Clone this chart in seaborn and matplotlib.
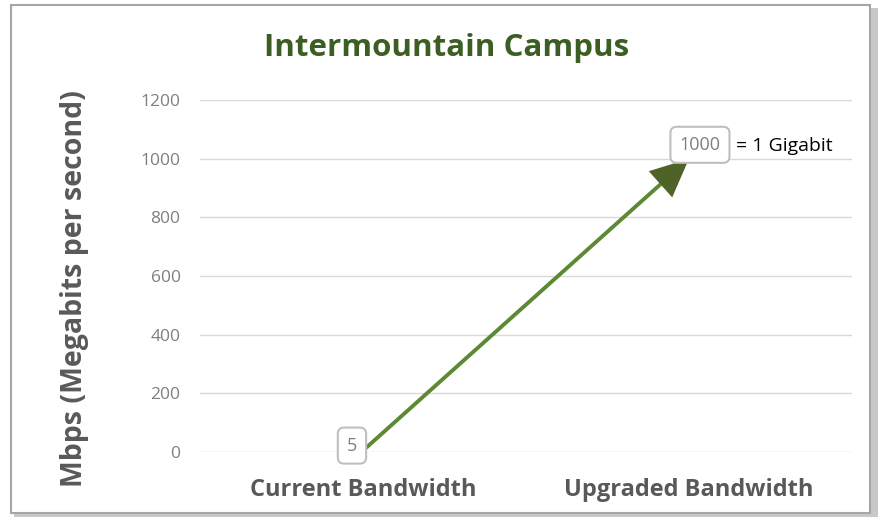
import matplotlib
matplotlib.use("Agg")
import matplotlib.pyplot as plt
import seaborn as sns
from matplotlib.patches import Rectangle

# Données du graphique
categories = ["Current Bandwidth", "Upgraded Bandwidth"]
valeurs = [5, 1000]
etiquettes = ["5", "1000"]
yticks = [0, 200, 400, 600, 800, 1000, 1200]

sns.set_theme(style="white")
plt.rcParams['font.family'] = ['Open Sans', 'DejaVu Sans']

fig = plt.figure(figsize=(8.81, 5.19), dpi=100)
ax = fig.add_axes([0.227, 0.129, 0.74, 0.678])

# Cadre avec ombre
fig.patches.append(Rectangle((0.016, 0.004), 0.981, 0.98, transform=fig.transFigure,
                             facecolor="#c8c8c8", edgecolor="none", zorder=-3))
fig.patches.append(Rectangle((0.012, 0.012), 0.976, 0.978, transform=fig.transFigure,
                             facecolor="white", edgecolor="#a6a6a6", lw=1.5, zorder=-2))

x = list(range(len(categories)))
sns.lineplot(x=x, y=valeurs, color="#5b8a32", lw=2.8, ax=ax)

# Tête de flèche
ax.annotate("", xy=(x[1], valeurs[1]), xytext=(x[0], valeurs[0]),
            arrowprops=dict(arrowstyle="-|>,head_length=0.5,head_width=0.23", mutation_scale=55, lw=0,
                            color="#4f6228", shrinkA=0, shrinkB=0))

# Étiquettes de données
boite = dict(boxstyle="round,pad=0.5,rounding_size=0.35", fc="white", ec="#bfbfbf", lw=1.5)
ax.annotate(etiquettes[0], xy=(x[0], valeurs[0]), xytext=(-11, 5), textcoords="offset pixels",
            ha="center", va="center", fontsize=13, color="#7f7f7f", bbox=boite)
ax.annotate(etiquettes[1], xy=(x[1], valeurs[1]), xytext=(11, 14), textcoords="offset pixels",
            ha="center", va="center", fontsize=13, color="#7f7f7f", bbox=boite)
ax.annotate("= 1 Gigabit", xy=(x[1], valeurs[1]), xytext=(47, 13), textcoords="offset pixels",
            ha="left", va="center", fontsize=14, color="black")

ax.set_xlim(-0.5, 1.5)
ax.set_ylim(0, 1200)
ax.set_yticks(yticks)
ax.set_xticks(x)
ax.set_xticklabels(categories, fontsize=17, fontweight="bold", color="#595959")
ax.tick_params(axis="y", labelsize=12.5, labelcolor="#7f7f7f", pad=14, length=0)
ax.tick_params(axis="x", pad=19, length=0)
ax.grid(axis="y", color="#d9d9d9", lw=1)
for s in ax.spines.values():
    s.set_visible(False)

ax.set_ylabel("Mbps (Megabits per second)", fontsize=20.5, fontweight="bold", color="#595959")
ax.yaxis.set_label_coords(-0.17, 0.466)
fig.text(0.507, 0.907, "Intermountain Campus", ha="center", va="center",
         fontsize=22.5, fontweight="bold", color="#3b5e22")

fig.savefig("out.png", dpi=100)
